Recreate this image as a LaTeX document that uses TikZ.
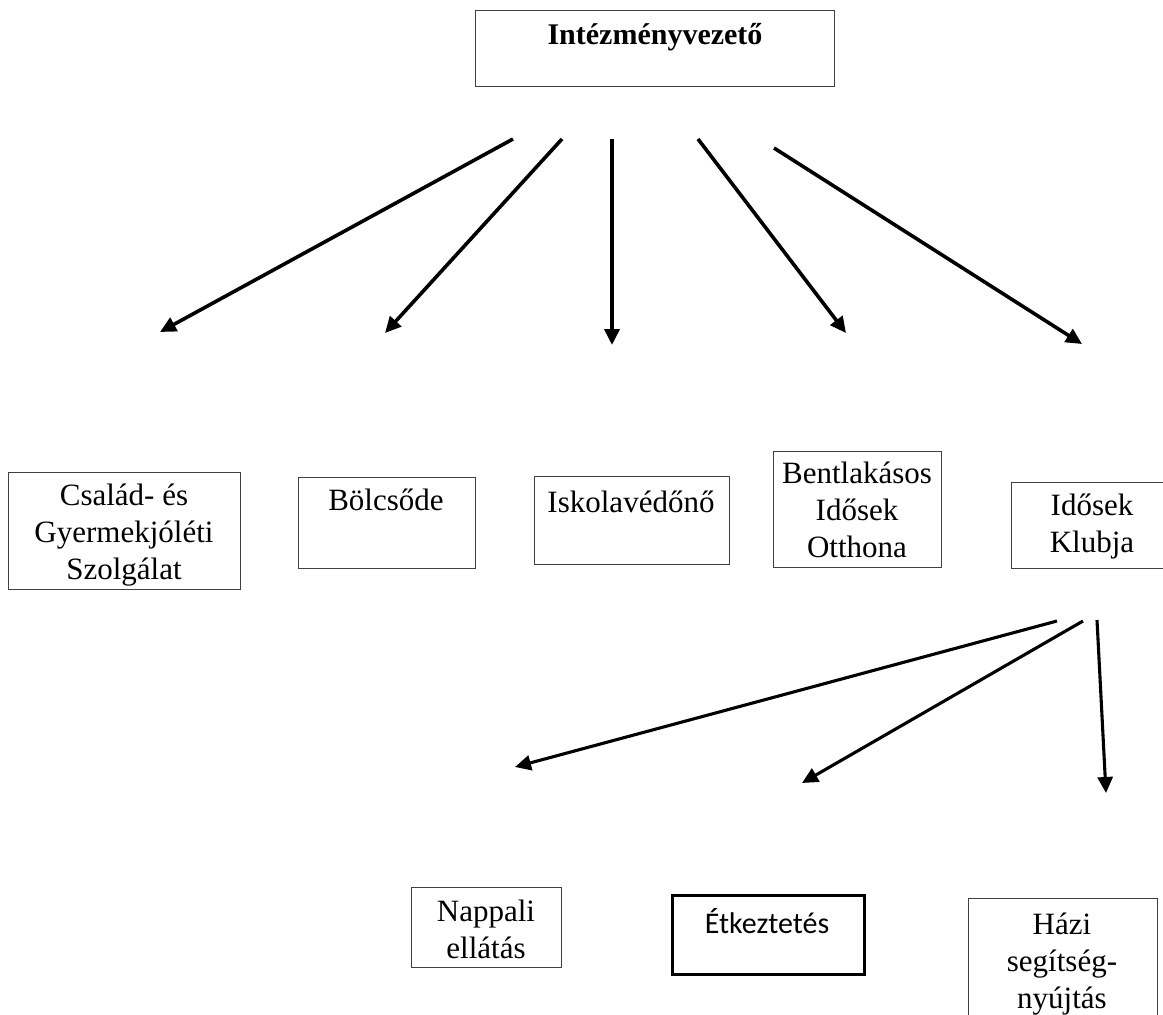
\documentclass[tikz,border=0pt]{standalone}
\usepackage{fontspec}
\setmainfont{Liberation Serif}
\newfontfamily\calfont{Carlito}
\usetikzlibrary{arrows.meta}
\definecolor{boxgray}{HTML}{404040}
\tikzset{
  box/.style={draw=boxgray, line width=1.3pt, anchor=north west, inner sep=0pt, minimum width=#1},
  txt/.style={anchor=base, inner sep=0pt, align=center, font=\fontsize{31}{37}\selectfont},
  arr/.style={line width=3.6pt, -{Triangle[length=16pt,width=15pt]}},
}
\begin{document}
\begin{tikzpicture}[x=1pt,y=-1pt]
\useasboundingbox (0,0) rectangle (1163,1015);
\clip (0,0) rectangle (1163,1015);
% top
\node[box=359pt, minimum height=76pt] (top) at (475,10) {};
\node[txt, font=\fontsize{30}{36}\selectfont\bfseries] (toptxt) at (655,44) {Intézményvezető};
% row 2 (base anchor = last line)
\node[box=232pt, minimum height=117pt] (cs) at (8,472) {};
\node[txt] (cstxt) at (124,579) {Család- és\\Gyermekjóléti\\Szolgálat};
\node[box=177pt, minimum height=91pt] (bo) at (298,477) {};
\node[txt] (botxt) at (386,510) {Bölcsőde};
\node[box=195pt, minimum height=88pt] (is) at (534,476) {};
\node[txt] (istxt) at (631,512) {Iskolavédőnő};
\node[box=168pt, minimum height=116pt] (be) at (773,451) {};
\node[txt] (betxt) at (857,557) {Bentlakásos\\Idősek\\Otthona};
\node[box=162pt, minimum height=86pt] (ik) at (1011,482) {};
\node[txt] (iktxt) at (1092,552) {Idősek\\Klubja};
% row 3
\node[box=150pt, minimum height=80pt] (na) at (411,887) {};
\node[txt] (natxt) at (486,958) {Nappali\\ellátás};
\node[box=192pt, minimum height=79pt, draw=black, line width=2.5pt] (et) at (671,894) {};
\node[txt, font=\fontsize{30}{36}\selectfont\calfont] (ettxt) at (767,933) {Étkeztetés};
\node[box=189pt, minimum height=140pt] (ha) at (968,898) {};
\node[txt] (hatxt) at (1062,1008) {Házi\\segítség-\\nyújtás};
% arrow ends
\coordinate (s1) at (513,139); \coordinate (e1) at (160,332);
\coordinate (s2) at (562,139); \coordinate (e2) at (385,333);
\coordinate (s3) at (612,139); \coordinate (e3) at (612,345);
\coordinate (s4) at (698,139); \coordinate (e4) at (846,333);
\coordinate (s5) at (774,148); \coordinate (e5) at (1082,344);
\coordinate (t1) at (1057,621); \coordinate (f1) at (515,767);
\coordinate (t2) at (1083,621); \coordinate (f2) at (802,783);
\coordinate (t3) at (1097,620); \coordinate (f3) at (1106,793);
\draw[arr] (s1) -- (e1);
\draw[arr] (s2) -- (e2);
\draw[arr] (s3) -- (e3);
\draw[arr] (s4) -- (e4);
\draw[arr] (s5) -- (e5);
\draw[arr, line width=3.1pt] (t1) -- (f1);
\draw[arr, line width=3.1pt] (t2) -- (f2);
\draw[arr, line width=3.1pt] (t3) -- (f3);
\end{tikzpicture}
\end{document}
